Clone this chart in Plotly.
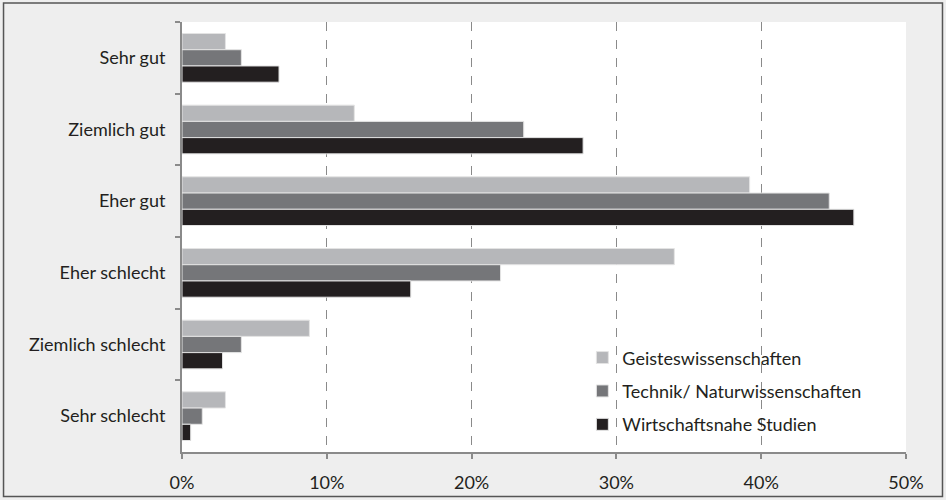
import plotly.graph_objects as go

# Self-assessment categories, listed top to bottom
categories = ["Sehr gut", "Ziemlich gut", "Eher gut", "Eher schlecht",
              "Ziemlich schlecht", "Sehr schlecht"]

# Shares in percent per field of study
geistes = [3.0, 11.9, 39.2, 34.0, 8.8, 3.0]
technik = [4.1, 23.6, 44.7, 22.0, 4.1, 1.4]
wirtschaft = [6.7, 27.7, 46.4, 15.8, 2.8, 0.6]

series_names = ["Geisteswissenschaften", "Technik/ Naturwissenschaften",
                "Wirtschaftsnahe Studien"]
series_values = [geistes, technik, wirtschaft]
series_colors = ["#b6b7ba", "#757679", "#231f20"]

x_ticks = [0, 10, 20, 30, 40, 50]
x_tick_labels = ["0%", "10%", "20%", "30%", "40%", "50%"]

FONT = "Lato"

fig = go.Figure()
for name, vals, col in zip(series_names, series_values, series_colors):
    fig.add_trace(go.Bar(
        y=categories, x=vals, name=name, orientation="h",
        legendgroup=name,
        marker=dict(color=col, line=dict(color="#e4e4e4", width=1)),
    ))

fig.update_layout(
    width=946, height=500,
    margin=dict(l=182, r=40, t=22, b=48),
    paper_bgcolor="#eeeeee",
    plot_bgcolor="#ffffff",
    barmode="group",
    bargap=0.32,
    bargroupgap=0,
    font=dict(family=FONT, color="#231f20"),
    showlegend=True,
    legend=dict(
        x=0.553, y=0.262, xanchor="left", yanchor="top",
        bgcolor="rgba(0,0,0,0)", traceorder="grouped",
        tracegroupgap=7, font=dict(size=18, family=FONT, color="#231f20"),
        itemwidth=30,
    ),
    xaxis=dict(
        range=[0, 50], tickvals=x_ticks, ticktext=x_tick_labels,
        showgrid=True, gridcolor="#8a8a8a", griddash="dash", gridwidth=1,
        showline=True, linecolor="#8a8a8a", linewidth=2,
        ticks="outside", ticklen=5, tickcolor="#8a8a8a", tickwidth=1.5,
        tickfont=dict(size=18, family=FONT, color="#231f20"),
        ticklabelstandoff=8, zeroline=False, fixedrange=True,
        automargin=False,
    ),
    yaxis=dict(
        type="category", categoryorder="array", categoryarray=categories,
        autorange="reversed",
        showline=True, linecolor="#8a8a8a", linewidth=2,
        ticks="outside", ticklen=5, tickcolor="#8a8a8a", tickwidth=1.5,
        tickson="boundaries",
        tickfont=dict(size=18, family=FONT, color="#231f20"),
        ticklabelstandoff=11, showgrid=False, fixedrange=True,
        automargin=False,
    ),
    shapes=[dict(
        type="rect", xref="paper", yref="paper",
        x0=-0.2465, x1=1.0504, y0=-0.1035, y1=1.0442,
        line=dict(color="#555555", width=1.5), fillcolor="rgba(0,0,0,0)",
        layer="below",
    )],
)

fig.write_html("out.html")
